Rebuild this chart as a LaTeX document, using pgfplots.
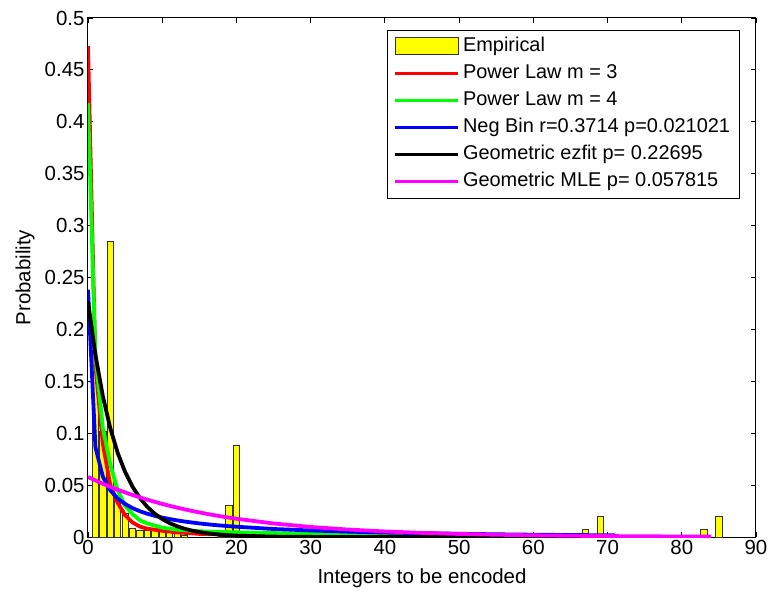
\documentclass[border=0pt]{standalone}
\usepackage{fontspec}
\setmainfont{Liberation Sans}
\usepackage{pgfplots}
\pgfplotsset{compat=1.18}

\definecolor{mred}{rgb}{1,0,0}
\definecolor{mgreen}{rgb}{0,1,0}
\definecolor{mblue}{rgb}{0,0,1}
\definecolor{mmag}{rgb}{1,0,1}
\definecolor{myellow}{rgb}{1,1,0}

\pgfplotsset{curve/.style={line width=3.8bp, line join=round,
  legend image code/.code={\draw[##1, line width=3bp] (0bp,0bp) -- (63bp,0bp);}}}

\begin{document}
\begin{tikzpicture}
\begin{axis}[name=ax, scale only axis, width=668bp, height=519bp,
  xmin=0, xmax=90, ymin=0, ymax=0.5,
  xtick={0,10,20,30,40,50,60,70,80,90},
  ytick={0,0.05,0.1,0.15,0.2,0.25,0.3,0.35,0.4,0.45,0.5},
  tick align=inside, tick pos=both, major tick length=5bp,
  scaled y ticks=false,
  yticklabel style={/pgf/number format/fixed,/pgf/number format/precision=2},
  /pgf/number format/assume math mode=true,
  tick label style={font=\fontsize{20.5}{24}\selectfont},
  label style={font=\fontsize{20.5}{24}\selectfont},
  xlabel={Integers to be encoded}, ylabel={Probability},
  xlabel style={at={(axis description cs:0.5,-0.079)}, anchor=center},
  ylabel style={at={(axis description cs:-0.094,0.5)}, anchor=center},
  axis line style={line width=1bp},
  every tick/.style={line width=0.8bp, black},
  legend cell align=left,
  legend style={at={(0.976,0.977)}, anchor=north east, draw=black, line width=0.8bp,
    font=\fontsize{20}{24}\selectfont, row sep=0pt,
    nodes={text height=14bp, text depth=4bp, inner ysep=4.5bp, inner xsep=3.5bp},
    inner xsep=6bp, inner ysep=3bp},
]
% empirical histogram
\addplot[ybar, bar width=0.85, fill=myellow, draw=black!80, line width=0.8bp,
  legend image code/.code={\draw[fill=myellow, draw=black!80, line width=0.9bp] (0bp,-8bp) rectangle (63bp,9bp);}]
coordinates {
(1,0.165) (2,0.102) (3,0.285) (4,0.036) (5,0.023) (6,0.0085) (7,0.0068)
(8,0.006) (9,0.0074) (10,0.0068) (11,0.0068) (12,0.0052) (13,0.002) (18,0.001)
(19,0.030) (20,0.0885) (67,0.007) (69,0.0195) (83,0.007) (85,0.0195)
};
\addlegendentry{Empirical}

% power law m = 3
\addplot[curve, mred] coordinates {
(0,0.473) (1,0.165) (2,0.090) (3,0.050) (4,0.033) (5,0.021) (6,0.014) (7,0.010)
(8,0.008) (10,0.006) (12,0.0045) (15,0.003) (20,0.002) (30,0.0013) (45,0.0008) (62,0.0005)
};
\addlegendentry{Power Law m = 3}

% power law m = 4
\addplot[curve, mgreen] coordinates {
(0,0.418) (1,0.175) (2,0.105) (3,0.070) (4,0.045) (5,0.030) (6,0.022) (7,0.016)
(8,0.013) (10,0.009) (12,0.007) (15,0.0055) (20,0.0045) (30,0.003) (40,0.002) (62,0.0012)
};
\addlegendentry{Power Law m = 4}

% negative binomial
\addplot[curve, mblue] coordinates {
(0,0.2382) (1,0.0866) (2,0.0581) (3,0.0450) (4,0.0371) (5,0.0318) (6,0.0278)
(7,0.0248) (8,0.0224) (9,0.0204) (10,0.0187) (11,0.0173) (12,0.0160) (13,0.0149)
(14,0.0140) (15,0.0131) (16,0.0123) (17,0.0116) (18,0.0110) (19,0.0104) (20,0.0099)
(25,0.0077) (30,0.0063) (35,0.0052) (40,0.0043) (45,0.0037) (50,0.0031) (55,0.0026)
(60,0.0022) (65,0.0019) (71,0.0016)
};
\addlegendentry{Neg Bin r=0.3714 p=0.021021}

% geometric ezfit
\addplot[curve, black] coordinates {
(0,0.22695) (1,0.17544) (2,0.13563) (3,0.10485) (4,0.08105) (5,0.06266) (6,0.04844)
(7,0.03745) (8,0.02895) (9,0.02238) (10,0.01730) (11,0.01337) (12,0.01034) (13,0.00799)
(14,0.00618) (15,0.00478) (16,0.00369) (17,0.00285) (18,0.00221) (19,0.00171)
(20,0.00132) (25,0.00036) (30,0.0001) (40,0) (62,0)
};
\addlegendentry{Geometric ezfit p= 0.22695}

% geometric MLE
\addplot[curve, mmag] coordinates {
(0,0.05782) (2,0.05130) (4,0.04553) (6,0.04045) (8,0.03590) (10,0.03187) (12,0.02829)
(14,0.02511) (16,0.02229) (18,0.01979) (20,0.01757) (25,0.01304) (30,0.00968)
(35,0.00719) (40,0.00534) (45,0.00396) (50,0.00294) (55,0.00219) (60,0.00162)
(65,0.00120) (70,0.00089) (75,0.00066) (80,0.00049) (84,0.00039)
};
\addlegendentry{Geometric MLE p= 0.057815}
\end{axis}
\pgfresetboundingbox
\path (ax.south west) ++(-88bp,-56bp) rectangle ++(769bp,593bp);
\end{tikzpicture}
\end{document}
